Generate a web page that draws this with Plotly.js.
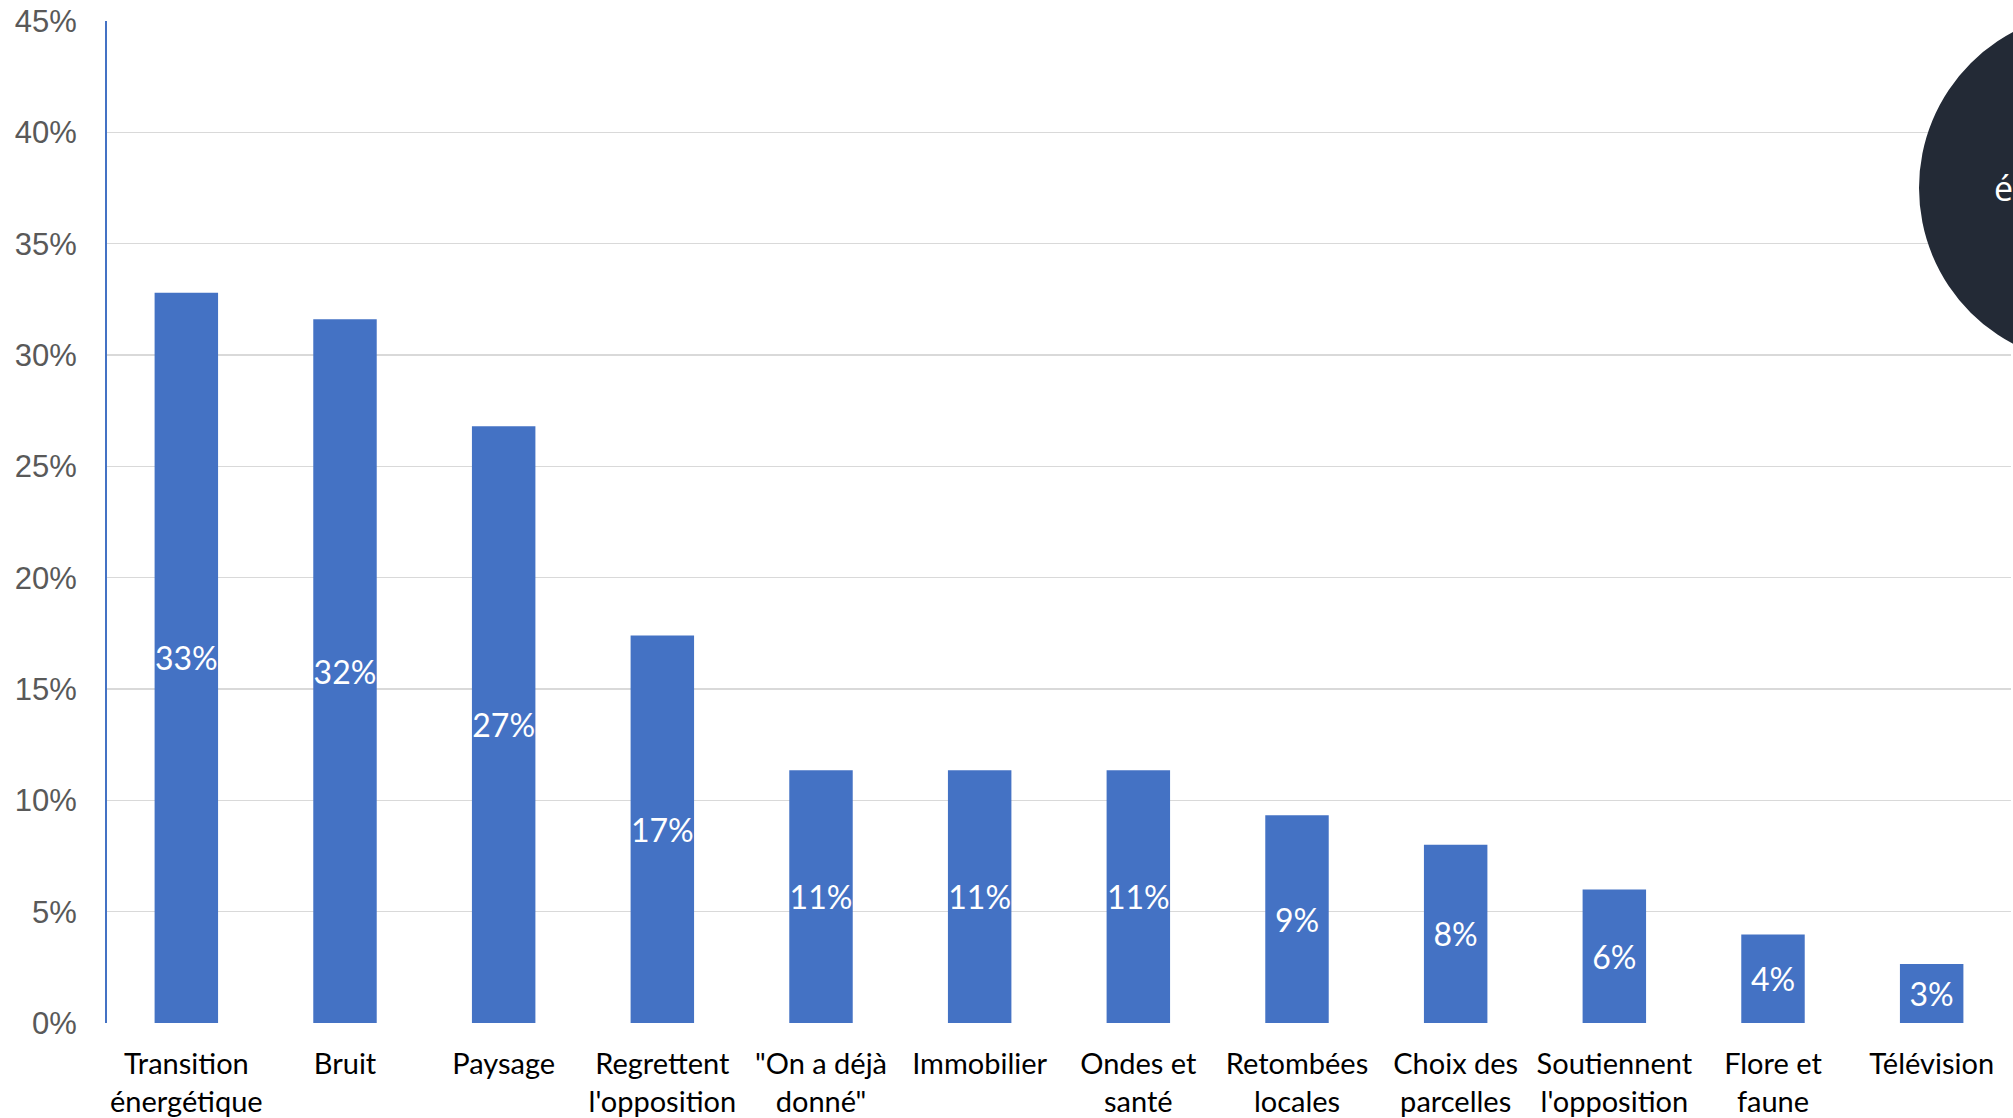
<!DOCTYPE html>
<html>
<head>
<meta charset="utf-8">
<script src="https://cdn.plot.ly/plotly-3.0.1.min.js"></script>
<style>
html,body{margin:0;padding:0;background:#fff;}
#chart{width:2013px;height:1118px;}
</style>
</head>
<body>
<div id="chart"></div>
<script>
const categories = [
  "Transition<br>énergétique",
  "Bruit",
  "Paysage",
  "Regrettent<br>l'opposition",
  "\"On a déjà<br>donné\"",
  "Immobilier",
  "Ondes et<br>santé",
  "Retombées<br>locales",
  "Choix des<br>parcelles",
  "Soutiennent<br>l'opposition",
  "Flore et<br>faune",
  "Télévision"
];
const values = [0.328, 0.316, 0.268, 0.174, 0.1135, 0.1135, 0.1135, 0.0933, 0.080, 0.0599, 0.0397, 0.0265];
const yTickVals = [0, 0.05, 0.10, 0.15, 0.20, 0.25, 0.30, 0.35, 0.40, 0.45];
const badgeText = "é";

const W = 2013, H = 1118;
const mL = 107, mR = 2, mT = 20.5, mB = 95;
const pw = W - mL - mR, ph = H - mT - mB;
const px = x => (x - mL) / pw;
const py = y => (H - mB - y) / ph;

const trace = {
  type: "bar",
  x: categories,
  y: values,
  marker: {color: "#4472C4"},
  texttemplate: "%{y:.0%}",
  textposition: "inside",
  insidetextanchor: "middle",
  textangle: 0,
  constraintext: "none",
  textfont: {family: "Lato, 'Open Sans', sans-serif", size: 32, color: "#ffffff"},
  hoverinfo: "skip"
};

const layout = {
  width: W, height: H,
  margin: {l: mL, r: mR, t: mT, b: mB, pad: 0},
  paper_bgcolor: "#ffffff",
  plot_bgcolor: "#ffffff",
  bargap: 0.6,
  showlegend: false,
  xaxis: {
    type: "category",
    showgrid: false,
    zeroline: false,
    showline: false,
    ticks: "",
    tickfont: {family: "Lato, 'Open Sans', sans-serif", size: 29, color: "#000000"},
    ticklabelstandoff: 21,
    fixedrange: true
  },
  yaxis: {
    range: [0, 0.45],
    tickvals: yTickVals,
    tickformat: ".0%",
    showgrid: true,
    gridcolor: "#D9D9D9",
    gridwidth: 1.5,
    zeroline: false,
    showline: true,
    linecolor: "#4472C4",
    linewidth: 2,
    ticks: "",
    ticklabelstandoff: 22,
    tickfont: {family: "'Liberation Sans', Arial, sans-serif", size: 31, color: "#595959"},
    fixedrange: true
  },
  shapes: [{
    type: "circle",
    xref: "paper", yref: "paper",
    x0: px(1919), x1: px(2272),
    y0: py(364), y1: py(11),
    fillcolor: "#232A36",
    line: {width: 0},
    layer: "above"
  }],
  annotations: [{
    xref: "paper", yref: "paper",
    x: px(1992), y: py(188),
    xanchor: "left", yanchor: "middle",
    text: badgeText,
    showarrow: false,
    font: {family: "'Open Sans', sans-serif", size: 34, color: "#ffffff"}
  }]
};

Plotly.newPlot("chart", [trace], layout, {displayModeBar: false, staticPlot: true});
</script>
</body>
</html>
